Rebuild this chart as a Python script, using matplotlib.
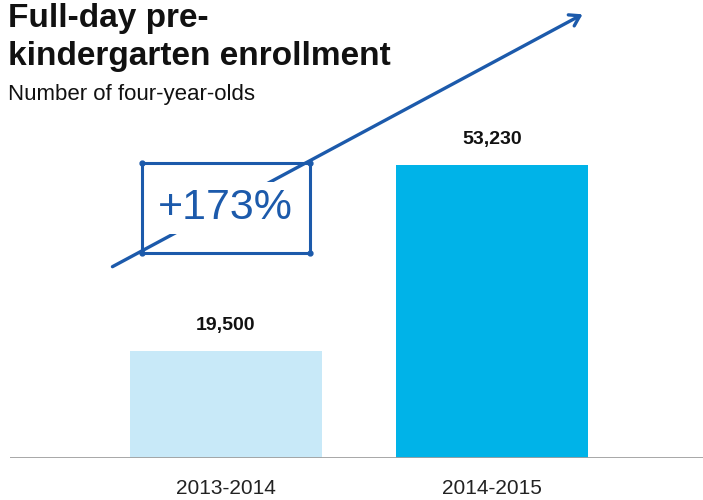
import matplotlib
matplotlib.use("Agg")
import matplotlib.pyplot as plt
from matplotlib.patches import Rectangle

plt.rcParams['font.family'] = ['Liberation Sans', 'DejaVu Sans']

categories = ["2013-2014", "2014-2015"]
values = [19500, 53230]
value_labels = ["19,500", "53,230"]
bar_colors = ["#c8e9f8", "#00b3e8"]
title = "Full-day pre-\nkindergarten enrollment"
subtitle = "Number of four-year-olds"
change_label = "+173%"

W, H = 703, 500
fig = plt.figure(figsize=(W / 100, H / 100), dpi=100)
ax = fig.add_axes([10 / W, 42 / H, 1 - 10 / W, 1 - 42 / H])

x = list(range(len(categories)))
ax.bar(x, values, width=0.72, color=bar_colors, zorder=2)
ax.set_xlim(-0.81, 1.79)
ax.set_ylim(0, 83206)
for xi, v, lab in zip(x, values, value_labels):
    ax.annotate(lab, (xi, v), xytext=(0, 12), textcoords="offset points",
                ha="center", va="bottom", fontsize=14, fontweight="bold", color="#111111")
ax.axhline(0, color="#a0a0a0", lw=1.3, zorder=3)
ax.set_xticks(x)
ax.set_xticklabels(categories, fontsize=15, color="#222222")
ax.tick_params(axis="x", length=0, pad=15)
ax.set_yticks([])
for s in ax.spines.values():
    s.set_visible(False)

fig.text(8 / W, 1 - 3 / H, title, fontsize=24, fontweight="bold", va="top", ha="left",
         linespacing=1.28, color="#111111")
fig.text(8 / W, 1 - 84 / H, subtitle, fontsize=16, va="top", ha="left", color="#111111")

blue = "#1c5aab"
# growth arrow (figure pixels)
fig.add_artist(matplotlib.patches.FancyArrowPatch((110, H - 268), (585, H - 13),
               transform=None, arrowstyle="->,head_length=7,head_width=4.5",
               color=blue, lw=2.4, zorder=5))
fig.text(225 / W, 1 - 208 / H, change_label, fontsize=31, color=blue, ha="center", va="center",
         zorder=6, bbox=dict(facecolor="white", edgecolor="none", pad=4))
rect = Rectangle((142, H - 253), 168, 90, transform=None, fill=False, edgecolor=blue,
                 lw=2.2, zorder=7)
fig.add_artist(rect)
for cx, cy in [(142, 253), (310, 253), (142, 163), (310, 163)]:
    fig.add_artist(matplotlib.lines.Line2D([cx], [H - cy], transform=None, marker="o",
                   markersize=3.5, color=blue, zorder=8))

fig.savefig("out.png", dpi=100)
